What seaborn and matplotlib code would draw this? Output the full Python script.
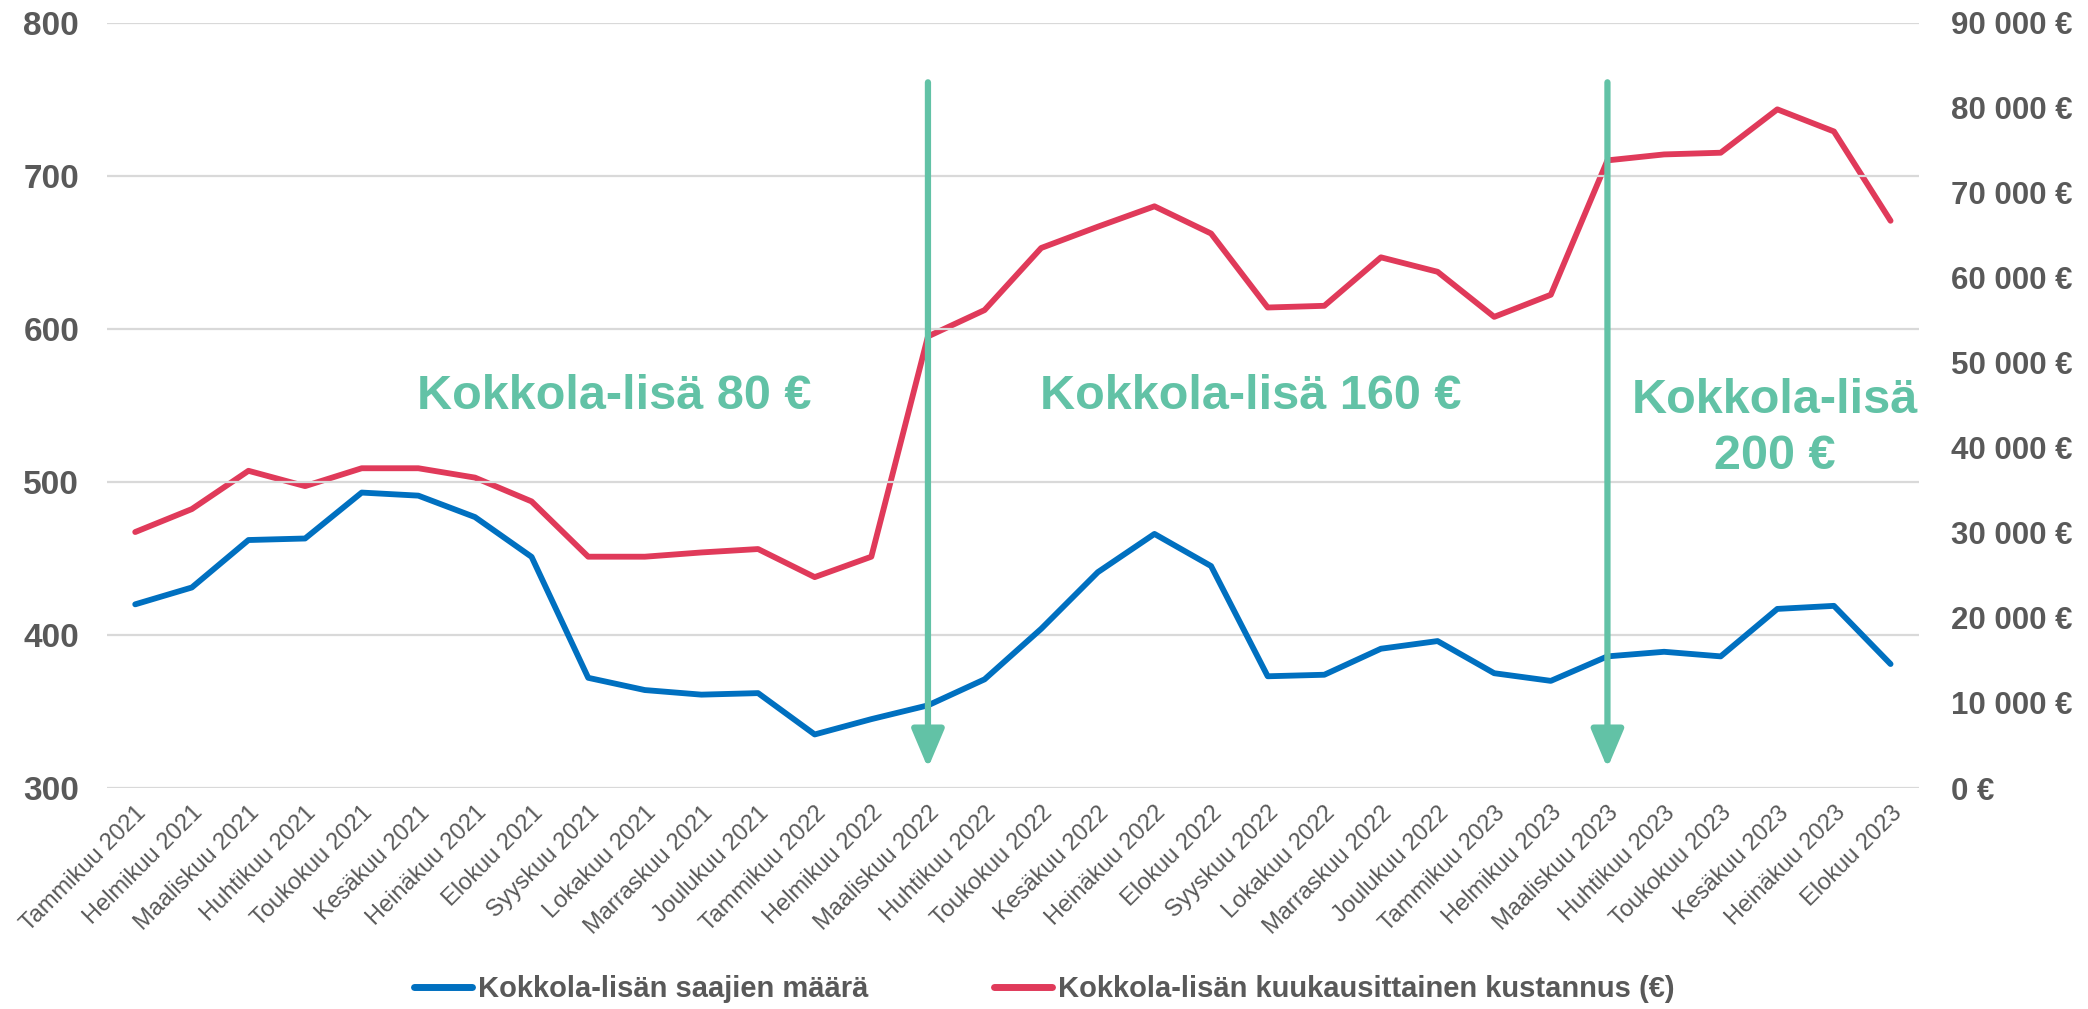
import numpy as np
import pandas as pd
import matplotlib
matplotlib.use("Agg")
import matplotlib.pyplot as plt
from matplotlib.ticker import FuncFormatter
from matplotlib.lines import Line2D
import seaborn as sns


months = [
    "Tammikuu 2021", "Helmikuu 2021", "Maaliskuu 2021", "Huhtikuu 2021",
    "Toukokuu 2021", "Kesäkuu 2021", "Heinäkuu 2021", "Elokuu 2021",
    "Syyskuu 2021", "Lokakuu 2021", "Marraskuu 2021", "Joulukuu 2021",
    "Tammikuu 2022", "Helmikuu 2022", "Maaliskuu 2022", "Huhtikuu 2022",
    "Toukokuu 2022", "Kesäkuu 2022", "Heinäkuu 2022", "Elokuu 2022",
    "Syyskuu 2022", "Lokakuu 2022", "Marraskuu 2022", "Joulukuu 2022",
    "Tammikuu 2023", "Helmikuu 2023", "Maaliskuu 2023", "Huhtikuu 2023",
    "Toukokuu 2023", "Kesäkuu 2023", "Heinäkuu 2023", "Elokuu 2023",
]

# saajien määrä (left axis)
recipients = [
    420, 431, 462, 463, 493, 491, 477, 451,
    372, 364, 361, 362, 335, 345, 354, 371,
    404, 441, 466, 445, 373, 374, 391, 396,
    375, 370, 386, 389, 386, 417, 419, 381,
]

# kuukausittainen kustannus in euros (right axis)
cost = [
    30100, 32800, 37300, 35500, 37600, 37600, 36500, 33700,
    27200, 27200, 27700, 28100, 24800, 27200, 53100, 56200,
    63500, 66000, 68400, 65200, 56500, 56700, 62400, 60700,
    55400, 58000, 73800, 74500, 74700, 79800, 77200, 66700,
]

arrow_months = ["Maaliskuu 2022", "Maaliskuu 2023"]
period_labels = ["Kokkola-lisä 80 €", "Kokkola-lisä 160 €", "Kokkola-lisä\n200 €"]
label_x = [8.45, 19.7, 28.95]
label_y = [556, 556, 535]

series_names = [
    "Kokkola-lisän saajien määrä",
    "Kokkola-lisän kuukausittainen kustannus (€)",
]

BLUE = "#0070C0"
RED = "#E03A5A"
GREEN = "#62C2A6"
GRAY = "#595959"
GRID = "#D9D9D9"


def euro_fmt(v, pos):
    return f"{int(round(v)):,}".replace(",", " ") + " €"


def main():

    sns.set_theme(style="white")
    plt.rcParams["font.family"] = ["Liberation Sans", "DejaVu Sans"]

    df = pd.DataFrame({
        "month": months,
        "pos": np.arange(len(months)),
        "recipients": recipients,
        "cost": cost,
    })

    fig = plt.figure(figsize=(20.88, 10.09), dpi=100)
    ax = fig.add_axes([0.0512, 0.219, 0.8678, 0.7586])
    ax2 = ax.twinx()

    sns.lineplot(data=df, x="pos", y="recipients", ax=ax,
                 color=BLUE, linewidth=4.2, zorder=3)
    sns.lineplot(data=df, x="pos", y="cost", ax=ax2,
                 color=RED, linewidth=4.2, zorder=3)

    ax.set_xlim(-0.5, len(months) - 0.5)
    ax.set_ylim(300, 800)
    ax2.set_ylim(0, 90000)
    ax.set_yticks(range(300, 801, 100))
    ax2.set_yticks(range(0, 90001, 10000))
    ax2.yaxis.set_major_formatter(FuncFormatter(euro_fmt))

    ax.grid(axis="y", color=GRID, linewidth=1.6)
    ax.set_axisbelow(True)
    for a in (ax, ax2):
        for s in a.spines.values():
            s.set_visible(False)
        a.set_xlabel("")
        a.set_ylabel("")
        a.tick_params(axis="both", length=0)

    ax.set_xticks(df["pos"])
    ax.set_xticklabels(months, rotation=45, ha="right",
                       rotation_mode="anchor", fontsize=17, color=GRAY)
    ax.tick_params(axis="x", pad=10)
    for lab in ax.get_yticklabels():
        lab.set_fontsize(24)
        lab.set_fontweight("bold")
        lab.set_color(GRAY)
    ax.tick_params(axis="y", pad=20)
    for lab in ax2.get_yticklabels():
        lab.set_fontsize(22.5)
        lab.set_fontweight("bold")
        lab.set_color(GRAY)
    ax2.tick_params(axis="y", pad=23)

    # arrows marking the raise of the allowance
    for m in arrow_months:
        xi = months.index(m)
        ax.annotate(
            "", xy=(xi, 313), xytext=(xi, 761),
            arrowprops=dict(arrowstyle="-|>,head_length=1.3,head_width=0.55",
                            color=GREEN, linewidth=4.5, mutation_scale=18,
                            capstyle="round", shrinkA=0, shrinkB=0),
            zorder=5,
        )
    ax.set_zorder(ax2.get_zorder() + 1)
    ax.patch.set_visible(False)

    for txt, x, y in zip(period_labels, label_x, label_y):
        ax.text(x, y, txt, ha="center", va="center", fontsize=35,
                fontweight="bold", color=GREEN, linespacing=1.3, zorder=6)

    handles = [
        Line2D([0], [0], color=BLUE, linewidth=5, solid_capstyle="round"),
        Line2D([0], [0], color=RED, linewidth=5, solid_capstyle="round"),
    ]
    leg = fig.legend(handles, series_names, loc="lower center",
                     bbox_to_anchor=(0.5, -0.02), ncol=2, frameon=False,
                     fontsize=21, handlelength=2.0, handletextpad=0.2,
                     columnspacing=4.3)
    for t in leg.get_texts():
        t.set_color(GRAY)
        t.set_fontweight("bold")

    fig.savefig("out.png", dpi=100)
    plt.close(fig)


if __name__ == "__main__":
    main()
